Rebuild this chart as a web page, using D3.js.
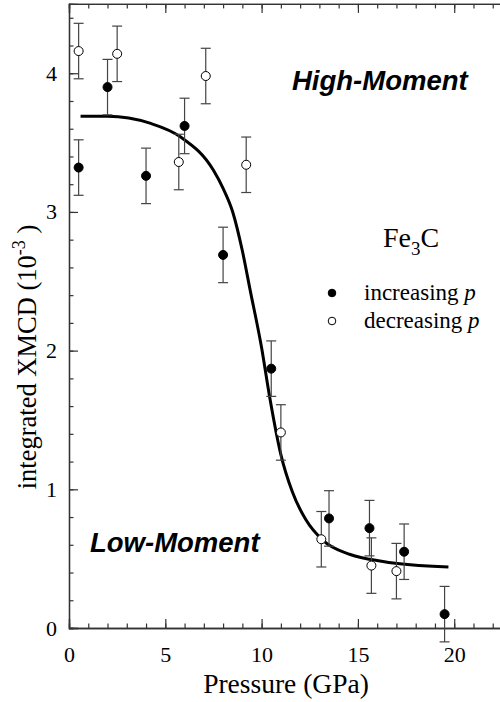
<!DOCTYPE html>
<html>
<head>
<meta charset="utf-8">
<script src="https://cdn.jsdelivr.net/npm/d3@7"></script>
<style>
  body { margin: 0; background: #fff; }
  svg { display: block; }
</style>
</head>
<body>
<svg id="chart" width="500" height="702"></svg>
<script>
// increasing pressure (filled)
let incP = [0.5, 2.0, 4.0, 6.0, 8.0, 10.5, 13.5, 15.6, 17.4, 19.5]
let incV = [3.32, 3.90, 3.26, 3.62, 2.69, 1.87, 0.79, 0.72, 0.55, 0.10]
// decreasing pressure (open)
let decP = [0.5, 2.5, 5.7, 7.1, 9.2, 11.0, 13.1, 15.7, 17.0]
let decV = [4.16, 4.14, 3.36, 3.98, 3.34, 1.41, 0.64, 0.45, 0.41]
let errBar = 0.2
// fitted curve
let fitP = [0.6, 2.0, 4.2, 5.8, 7.5, 8.0, 8.5, 9.0, 9.4, 10.0, 10.4, 11.0, 11.6, 12.3, 13.2, 14.6, 16.3, 19.7]
let fitV = [3.69, 3.69, 3.64, 3.54, 3.30, 3.17, 3.00, 2.72, 2.44, 2.02, 1.68, 1.25, 0.98, 0.78, 0.63, 0.53, 0.48, 0.44]
let xTicks = [0, 5, 10, 15, 20]
let yTicks = [0, 1, 2, 3, 4]

let svg = d3.select('#chart')
let x = d3.scaleLinear().domain([0, 23]).range([69, 512])
let y = d3.scaleLinear().domain([0, 4.5]).range([628, 3.9])
let axisCol = '#333'
let serif = '"Liberation Serif", "Times New Roman", serif'
let sans = '"Liberation Sans", Arial, sans-serif'

// minor ticks
svg.append('g')
  .attr('transform', `translate(0,${y(0)})`)
  .call(d3.axisBottom(x).tickValues(d3.range(0, 24, 1)).tickSize(-4.5).tickFormat(''))
svg.append('g')
  .attr('transform', `translate(0,${y(4.5)})`)
  .call(d3.axisTop(x).tickValues(d3.range(0, 24, 1)).tickSize(-4.5).tickFormat(''))
svg.append('g')
  .attr('transform', `translate(${x(0)},0)`)
  .call(d3.axisLeft(y).tickValues(d3.range(0, 4.5, 0.2)).tickSize(-4.5).tickFormat(''))

// major ticks with labels
svg.append('g')
  .attr('transform', `translate(0,${y(0)})`)
  .call(d3.axisBottom(x).tickValues(xTicks).tickSize(-9).tickPadding(18).tickFormat(d3.format('d')))
svg.append('g')
  .attr('transform', `translate(0,${y(4.5)})`)
  .call(d3.axisTop(x).tickValues(xTicks).tickSize(-9).tickFormat(''))
svg.append('g')
  .attr('transform', `translate(${x(0)},0)`)
  .call(d3.axisLeft(y).tickValues(yTicks).tickSize(-9).tickPadding(12).tickFormat(d3.format('d')))

svg.selectAll('.domain').attr('stroke', axisCol).attr('stroke-width', 1.3)
svg.selectAll('.tick line').attr('stroke', axisCol).attr('stroke-width', 1.2)
svg.selectAll('.tick text').style('font-family', serif).style('font-size', '22px').attr('fill', '#000')

// fit curve
let line = d3.line().x(d => x(d[0])).y(d => y(d[1])).curve(d3.curveMonotoneX)
svg.append('path')
  .datum(d3.zip(fitP, fitV))
  .attr('d', line)
  .attr('fill', 'none')
  .attr('stroke', '#000')
  .attr('stroke-width', 3)

// error bars + points
function drawSeries(ps, vs, filled) {
  let g = svg.append('g')
  let data = d3.zip(ps, vs)
  g.selectAll('line.err').data(data).enter().append('line')
    .attr('x1', d => x(d[0])).attr('x2', d => x(d[0]))
    .attr('y1', d => y(d[1] - errBar)).attr('y2', d => y(d[1] + errBar))
    .attr('stroke', '#444').attr('stroke-width', 1.2)
  ;[-1, 1].forEach(s => {
    g.selectAll('line.cap' + s).data(data).enter().append('line')
      .attr('x1', d => x(d[0]) - 5).attr('x2', d => x(d[0]) + 5)
      .attr('y1', d => y(d[1] + s * errBar)).attr('y2', d => y(d[1] + s * errBar))
      .attr('stroke', '#444').attr('stroke-width', 1.2)
  })
  g.selectAll('circle').data(data).enter().append('circle')
    .attr('cx', d => x(d[0])).attr('cy', d => y(d[1]))
    .attr('r', 4.5)
    .attr('fill', filled ? '#000' : '#fff')
    .attr('stroke', '#000').attr('stroke-width', 1)
}
drawSeries(incP, incV, true)
drawSeries(decP, decV, false)

// annotations
svg.append('text').attr('x', 292).attr('y', 90)
  .style('font-family', sans).style('font-size', '27.5px').style('font-weight', 'bold').style('font-style', 'italic')
  .text('High-Moment')
svg.append('text').attr('x', 90).attr('y', 552)
  .style('font-family', sans).style('font-size', '27.5px').style('font-weight', 'bold').style('font-style', 'italic')
  .text('Low-Moment')

let fe = svg.append('text').attr('x', 383).attr('y', 247)
  .style('font-family', serif).style('font-size', '28px')
fe.append('tspan').text('Fe')
fe.append('tspan').attr('dy', 8).style('font-size', '19px').text('3')
fe.append('tspan').attr('dy', -8).text('C')

// legend
let legend = [['increasing ', true, 293], ['decreasing ', false, 321]]
legend.forEach(l => {
  svg.append('circle').attr('cx', 332).attr('cy', l[2]).attr('r', 3.8)
    .attr('fill', l[1] ? '#000' : '#fff').attr('stroke', '#000').attr('stroke-width', 1)
  let t = svg.append('text').attr('x', 364).attr('y', l[2] + 7)
    .style('font-family', serif).style('font-size', '23px')
  t.append('tspan').text(l[0])
  t.append('tspan').style('font-style', 'italic').text('p')
})

// axis titles
svg.append('text').attr('x', 286).attr('y', 693).attr('text-anchor', 'middle')
  .style('font-family', serif).style('font-size', '27.5px')
  .text('Pressure (GPa)')
let yl = svg.append('text').attr('transform', 'translate(36,357) rotate(-90)').attr('text-anchor', 'middle')
  .style('font-family', serif).style('font-size', '26.5px')
yl.append('tspan').text('integrated XMCD (10')
yl.append('tspan').attr('dy', -11).style('font-size', '18px').text('-3')
yl.append('tspan').attr('dy', 11).text(' )')
</script>
</body>
</html>
